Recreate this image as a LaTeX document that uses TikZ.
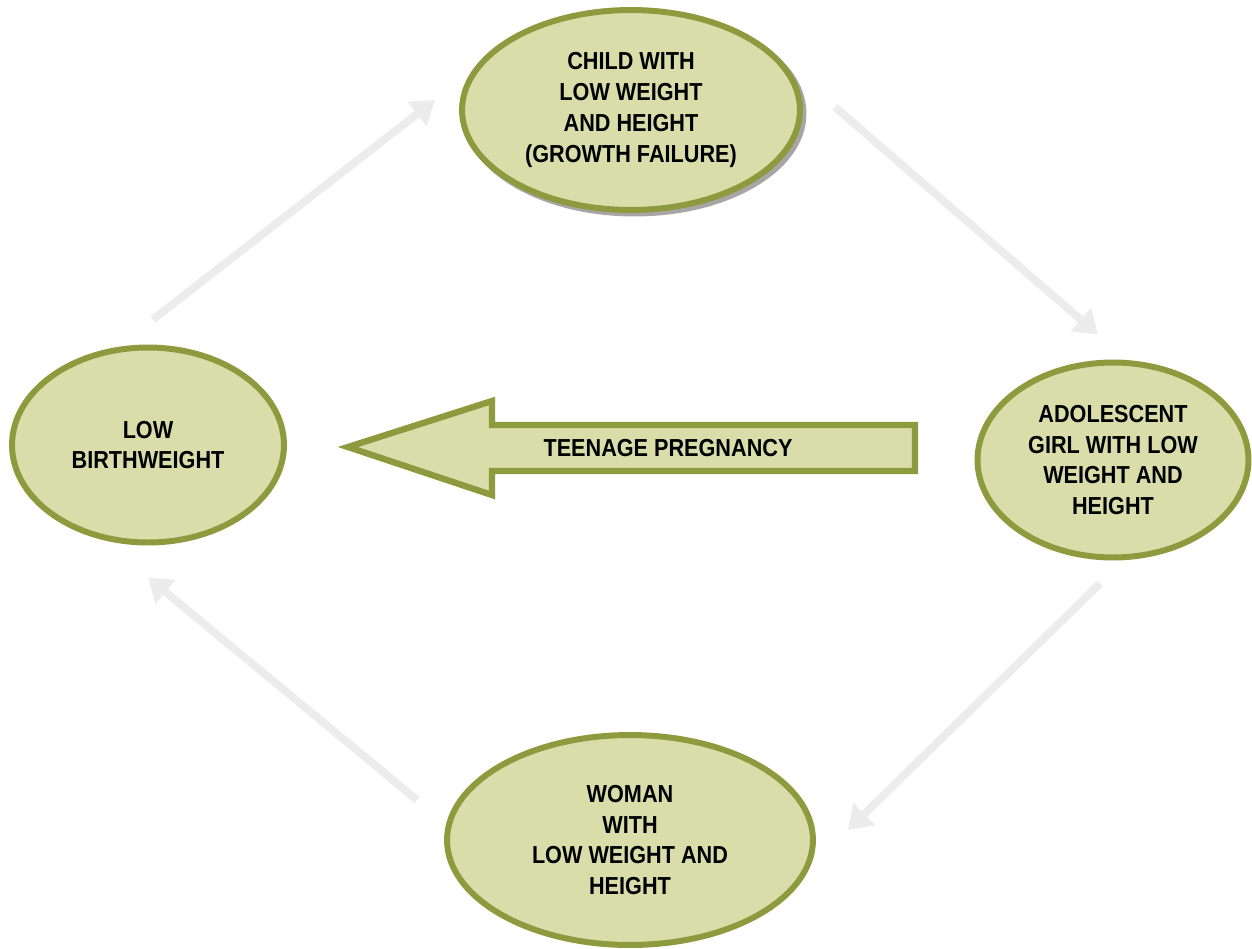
\documentclass[tikz,border=0pt]{standalone}
\usepackage{fontspec}
\setmainfont{Liberation Sans}[FakeStretch=0.88]
\usetikzlibrary{shapes.geometric,arrows.meta,calc}
\definecolor{olive}{RGB}{142,154,62}
\definecolor{pale}{RGB}{216,221,170}
\definecolor{flow}{RGB}{236,236,236}
\begin{document}
\begin{tikzpicture}[x=0.02cm,y=-0.02cm,
        stage/.style={ellipse,draw=olive,fill=pale,line width=3.4pt,align=center,
            font=\fontsize{14}{17.6}\selectfont\bfseries,inner sep=0pt},
        flowline/.style={draw=flow,line width=4.5pt,
            -{Triangle[length=13pt,width=17pt]}}]
        \useasboundingbox (0,0) rectangle (1252,948);
        \def\tipx{340}
        \def\headx{492}
        % the four stages
        \node[stage,minimum width=5.44cm,minimum height=3.9cm] (Low) at (148,445) {LOW\\BIRTHWEIGHT};
        \node[stage,minimum width=6.76cm,minimum height=4cm,
            preaction={fill=black!35,draw=black!35,transform canvas={shift={(2pt,-2pt)}}}] (Child) at (631,110)
            {CHILD WITH\\LOW WEIGHT\\AND HEIGHT\\(GROWTH FAILURE)};
        \node[stage,minimum width=5.42cm,minimum height=3.9cm] (Girl) at (1113,460)
            {ADOLESCENT\\GIRL WITH LOW\\WEIGHT AND\\HEIGHT};
        \node[stage,minimum width=7.32cm,minimum height=4.2cm] (Woman) at (630,840)
            {WOMAN\\WITH\\LOW WEIGHT AND\\HEIGHT};
        % cycle
        \draw[flowline] ($(Low.north)+(5,-25)$) -- ($(Child.west)+(-24,-10)$);
        \draw[flowline] ($(Child.east)+(32,-3)$) -- ($(Girl.north)+(-15,-25)$);
        \draw[flowline] ($(Girl.south)+(-13,23)$) -- ($(Woman.east)+(32,-10)$);
        \draw[flowline] ($(Woman.west)+(-27,-40)$) -- ($(Low.south)+(0,32)$);
        % teenage pregnancy
        \draw[draw=olive,fill=pale,line width=3.6pt,line join=miter]
            (\tipx+8,447) -- (\headx,401) -- (\headx,425) -- (915,425) -- (915,471)
            -- (\headx,471) -- (\headx,495) -- cycle;
        \node[font=\fontsize{14}{17.6}\selectfont\bfseries] (Teen) at (668,448) {TEENAGE PREGNANCY};
    \end{tikzpicture}
\end{document}
